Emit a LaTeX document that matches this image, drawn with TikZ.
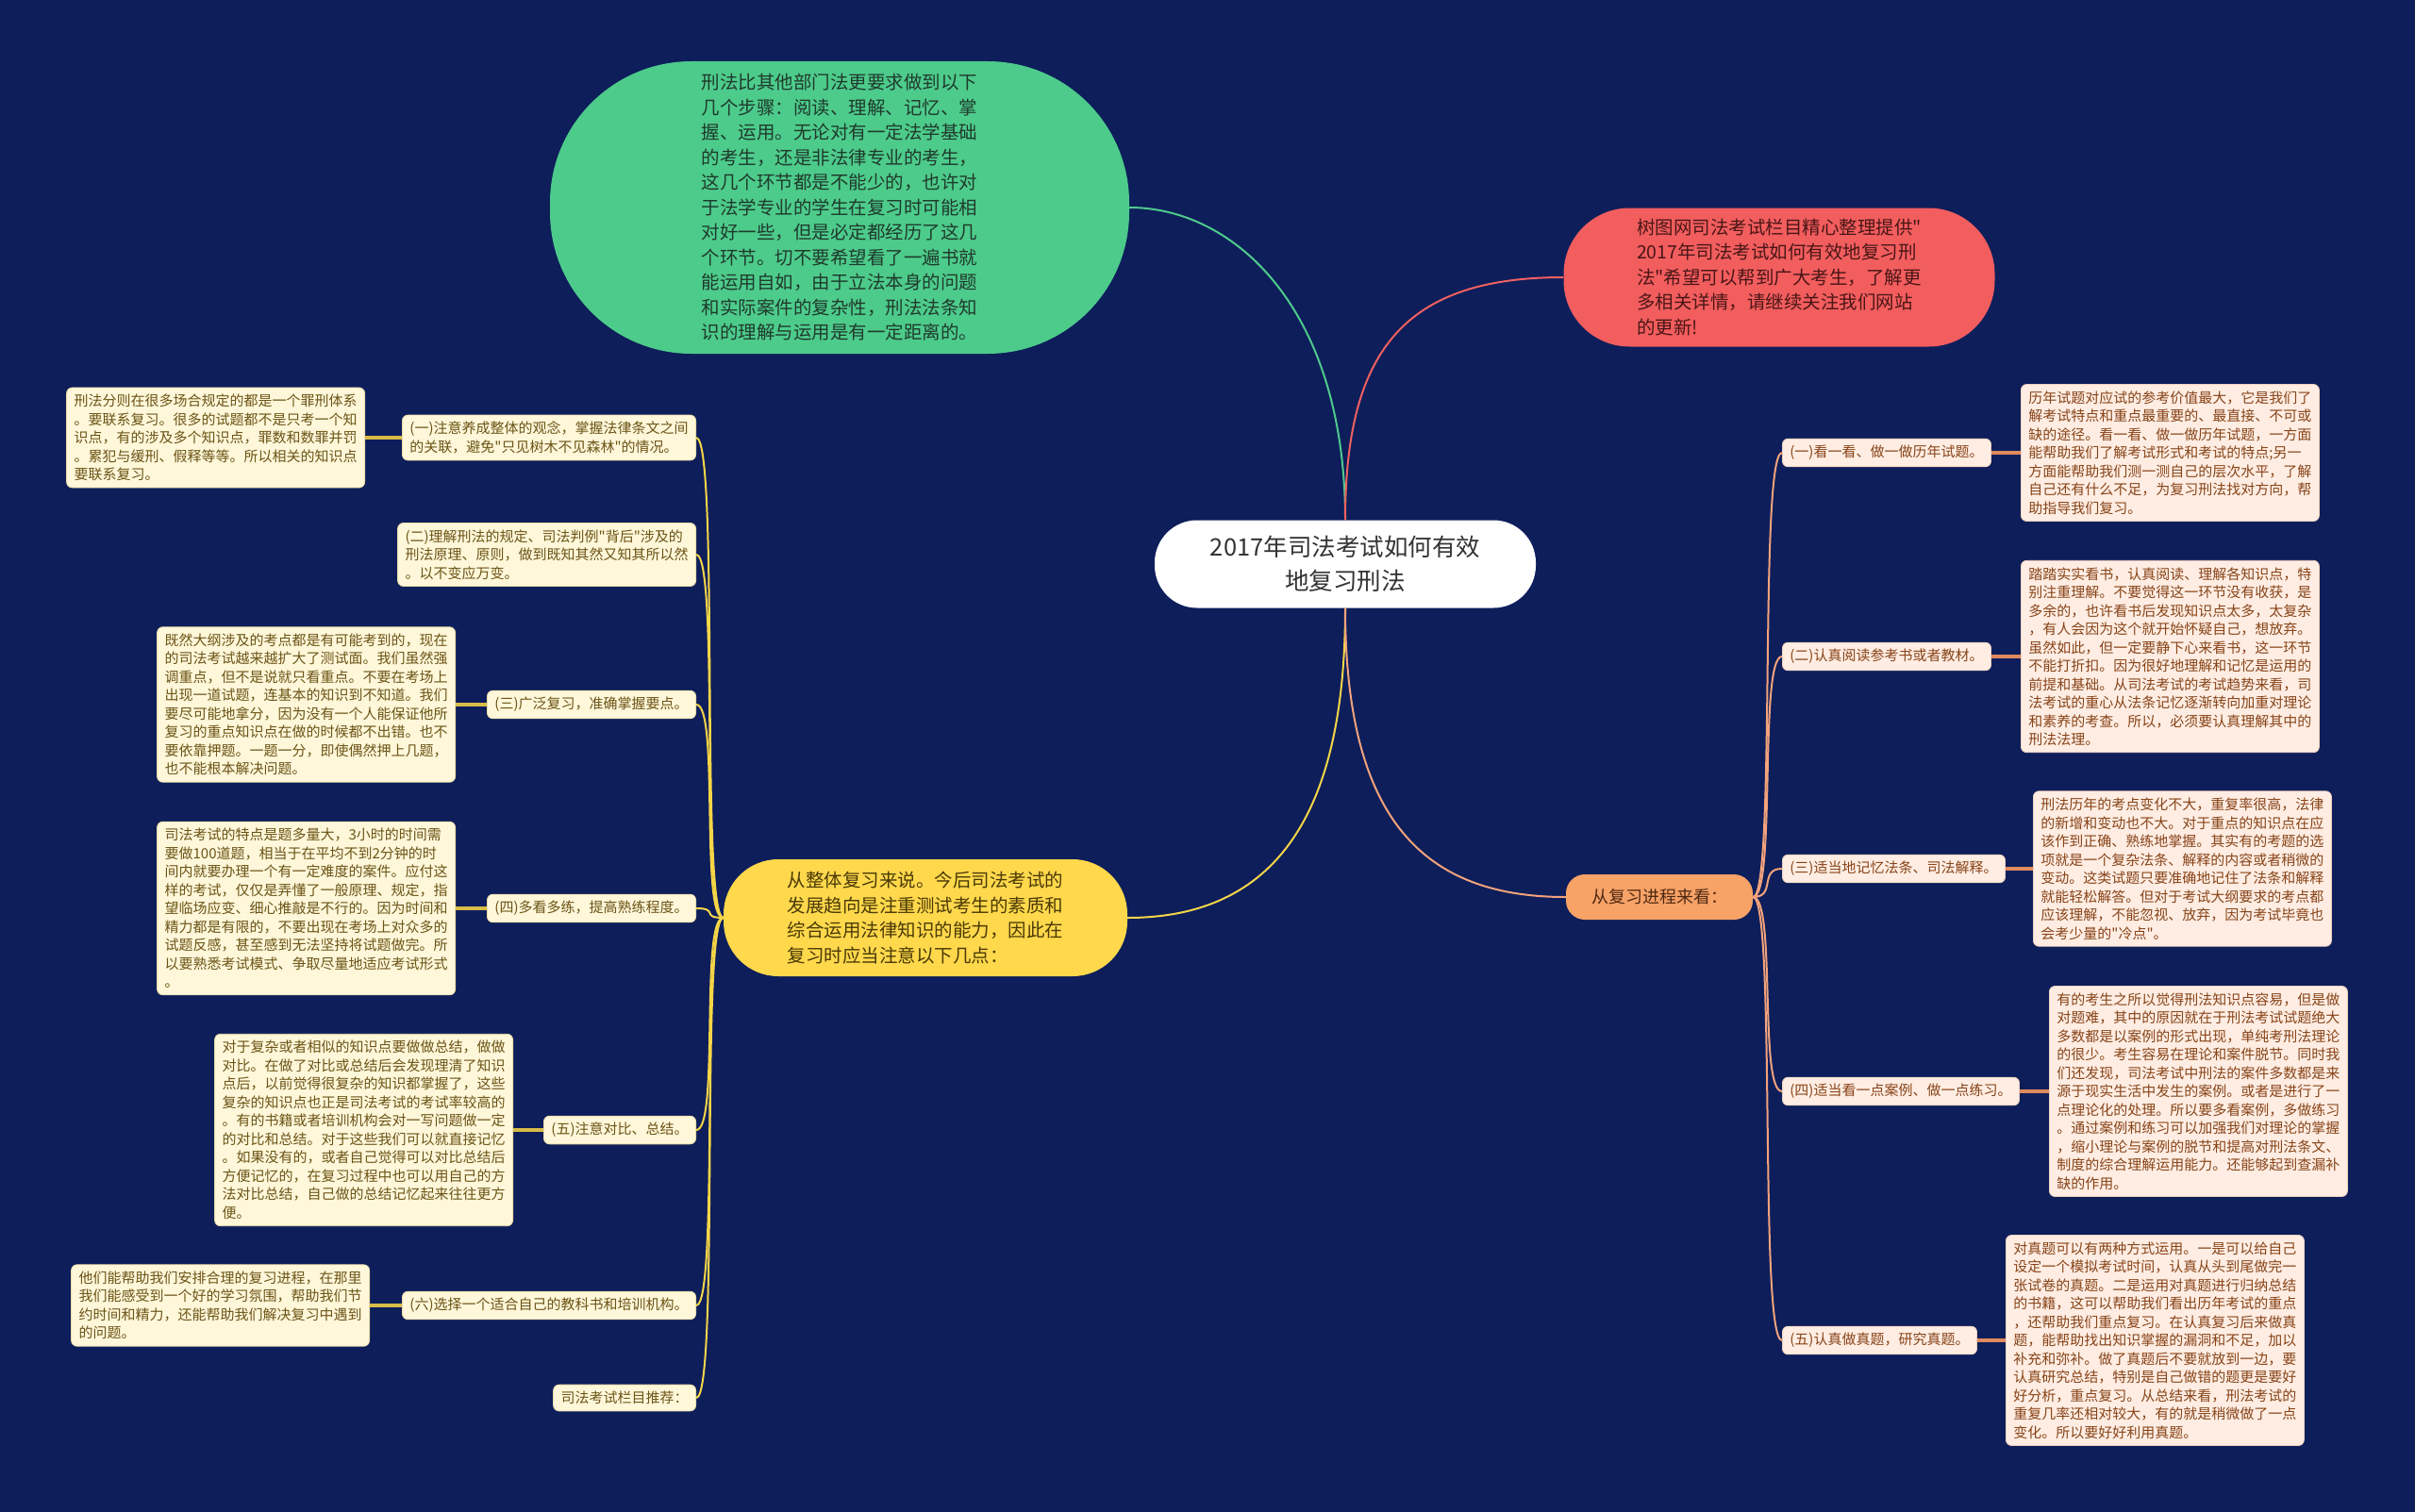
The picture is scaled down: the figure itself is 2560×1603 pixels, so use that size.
\documentclass[tikz,border=0pt]{standalone}
\usepackage{fontspec}
\setmainfont{Noto Sans CJK SC}[Ligatures=TeXOff]
\definecolor{bg}{HTML}{0D1E5A}
\definecolor{grnfill}{HTML}{4DCB8B}
\definecolor{grntext}{HTML}{1F3A2C}
\definecolor{redfill}{HTML}{F25D5E}
\definecolor{redtext}{HTML}{4A1616}
\definecolor{yelfill}{HTML}{FFD84C}
\definecolor{yeltext}{HTML}{4A3A06}
\definecolor{orgfill}{HTML}{F7A267}
\definecolor{orgtext}{HTML}{4E2810}
\definecolor{lfill}{HTML}{FFF7DA}
\definecolor{lline}{HTML}{E9DCA8}
\definecolor{ltext}{HTML}{6B5416}
\definecolor{rfill}{HTML}{FFEDE3}
\definecolor{rline}{HTML}{F0D0BE}
\definecolor{rtext}{HTML}{874418}
\definecolor{spiney}{HTML}{F5D548}
\definecolor{twigy}{HTML}{D8BC48}
\definecolor{spineo}{HTML}{F2A27C}
\definecolor{twigo}{HTML}{E0895E}
\definecolor{linegrn}{HTML}{4FC98C}
\definecolor{linered}{HTML}{EF6060}
\begin{document}
\begin{tikzpicture}[x=1pt,y=-1pt,
  bigtext/.style={align=left,inner sep=0pt,font=\fontsize{19.5}{26.5}\selectfont},
  lbox/.style={fill=lfill,draw=lline,line width=0.8pt,rounded corners=6pt,align=left,
    text=ltext,inner xsep=8pt,inner ysep=7pt,font=\fontsize{15}{19.5}\selectfont},
  rbox/.style={fill=rfill,draw=rline,line width=0.8pt,rounded corners=6pt,align=left,
    text=rtext,inner xsep=8pt,inner ysep=7pt,font=\fontsize{15}{19.5}\selectfont},
  spinel/.style={draw=spiney,line width=2pt},
  twigl/.style={draw=twigy,line width=3.5pt},
  spiner/.style={draw=spineo,line width=2pt},
  twigr/.style={draw=twigo,line width=3.5pt}]
\fill[bg] (0,0) rectangle (2560,1603);
\useasboundingbox (0,0) rectangle (2560,1603);

% centre and main branches
\node[fill=white,rounded corners=45pt,minimum width=404pt,minimum height=93pt,align=center,
  text=black!80,font=\fontsize{25.5}{36}\selectfont] (root) at (1426,598)
  {2017年司法考试如何有效\\地复习刑法};
\node[bigtext,fill=grnfill,text=grntext,rounded corners=150pt,minimum width=614pt,minimum height=310pt]
  (steps) at (890,220) {刑法比其他部门法更要求做到以下\\几个步骤：阅读、理解、记忆、掌\\握、运用。无论对有一定法学基础\\的考生，还是非法律专业的考生，\\这几个环节都是不能少的，也许对\\于法学专业的学生在复习时可能相\\对好一些，但是必定都经历了这几\\个环节。切不要希望看了一遍书就\\能运用自如，由于立法本身的问题\\和实际案件的复杂性，刑法法条知\\识的理解与运用是有一定距离的。};
\node[bigtext,fill=redfill,text=redtext,rounded corners=70pt,minimum width=457pt,minimum height=147pt]
  (intro) at (1886,294) {树图网司法考试栏目精心整理提供"\\2017年司法考试如何有效地复习刑\\法"希望可以帮到广大考生，了解更\\多相关详情，请继续关注我们网站\\的更新!};
\node[bigtext,fill=yelfill,text=yeltext,rounded corners=58pt,minimum width=428pt,minimum height=124pt]
  (whole) at (981,973) {从整体复习来说。今后司法考试的\\发展趋向是注重测试考生的素质和\\综合运用法律知识的能力，因此在\\复习时应当注意以下几点：};
\node[fill=orgfill,text=orgtext,rounded corners=20pt,minimum width=198pt,minimum height=48pt,
  font=\fontsize{18}{24}\selectfont] (process) at (1759,951) {从复习进程来看：};

\draw[linegrn,line width=2pt] (root.north) .. controls (1426,330) and (1310,220) .. (steps.east);
\draw[linered,line width=2pt] (root.north) .. controls (1426,370) and (1490,294) .. (intro.west);
\draw[spiney,line width=2pt] (root.south) .. controls (1426,880) and (1340,973) .. (whole.east);
\draw[spineo,line width=2pt] (root.south) .. controls (1426,870) and (1510,951) .. (process.west);

% left side
\node[lbox,anchor=east] (l1) at (738,464) {(一)注意养成整体的观念，掌握法律条文之间\\的关联，避免"只见树木不见森林"的情况。};
\node[lbox,anchor=east] (l2) at (738,588) {(二)理解刑法的规定、司法判例"背后"涉及的\\刑法原理、原则，做到既知其然又知其所以然\\。以不变应万变。};
\node[lbox,anchor=east] (l3) at (738,747) {(三)广泛复习，准确掌握要点。};
\node[lbox,anchor=east] (l4) at (738,963) {(四)多看多练，提高熟练程度。};
\node[lbox,anchor=east] (l5) at (738,1198) {(五)注意对比、总结。};
\node[lbox,anchor=east] (l6) at (738,1384) {(六)选择一个适合自己的教科书和培训机构。};
\node[lbox,anchor=east] (l7) at (738,1482) {司法考试栏目推荐：};

\node[lbox,anchor=east] (l1leaf) at (387,464) {刑法分则在很多场合规定的都是一个罪刑体系\\。要联系复习。很多的试题都不是只考一个知\\识点，有的涉及多个知识点，罪数和数罪并罚\\。累犯与缓刑、假释等等。所以相关的知识点\\要联系复习。};
\node[lbox,anchor=east] (l3leaf) at (483,747) {既然大纲涉及的考点都是有可能考到的，现在\\的司法考试越来越扩大了测试面。我们虽然强\\调重点，但不是说就只看重点。不要在考场上\\出现一道试题，连基本的知识到不知道。我们\\要尽可能地拿分，因为没有一个人能保证他所\\复习的重点知识点在做的时候都不出错。也不\\要依靠押题。一题一分，即使偶然押上几题，\\也不能根本解决问题。};
\node[lbox,anchor=east] (l4leaf) at (483,963) {司法考试的特点是题多量大，3小时的时间需\\要做100道题，相当于在平均不到2分钟的时\\间内就要办理一个有一定难度的案件。应付这\\样的考试，仅仅是弄懂了一般原理、规定，指\\望临场应变、细心推敲是不行的。因为时间和\\精力都是有限的，不要出现在考场上对众多的\\试题反感，甚至感到无法坚持将试题做完。所\\以要熟悉考试模式、争取尽量地适应考试形式\\。};
\node[lbox,anchor=east] (l5leaf) at (544,1198) {对于复杂或者相似的知识点要做做总结，做做\\对比。在做了对比或总结后会发现理清了知识\\点后，以前觉得很复杂的知识都掌握了，这些\\复杂的知识点也正是司法考试的考试率较高的\\。有的书籍或者培训机构会对一写问题做一定\\的对比和总结。对于这些我们可以就直接记忆\\。如果没有的，或者自己觉得可以对比总结后\\方便记忆的，在复习过程中也可以用自己的方\\法对比总结，自己做的总结记忆起来往往更方\\便。};
\node[lbox,anchor=east] (l6leaf) at (392,1384) {他们能帮助我们安排合理的复习进程，在那里\\我们能感受到一个好的学习氛围，帮助我们节\\约时间和精力，还能帮助我们解决复习中遇到\\的问题。};

\foreach \n in {l1,l2,l3,l4,l5,l6,l7}
  \draw[spinel] (whole.west) .. controls +(-25,0) and +(25,0) .. (\n.east);
\foreach \n in {l1,l3,l4,l5,l6}
  \draw[twigl] (\n.west) -- (\n leaf.east);

% right side
\node[rbox,anchor=west] (r1) at (1889,480) {(一)看一看、做一做历年试题。};
\node[rbox,anchor=west] (r2) at (1889,696) {(二)认真阅读参考书或者教材。};
\node[rbox,anchor=west] (r3) at (1889,921) {(三)适当地记忆法条、司法解释。};
\node[rbox,anchor=west] (r4) at (1889,1157) {(四)适当看一点案例、做一点练习。};
\node[rbox,anchor=west] (r5) at (1889,1421) {(五)认真做真题，研究真题。};

\node[rbox,anchor=west] (r1leaf) at (2142,480) {历年试题对应试的参考价值最大，它是我们了\\解考试特点和重点最重要的、最直接、不可或\\缺的途径。看一看、做一做历年试题，一方面\\能帮助我们了解考试形式和考试的特点;另一\\方面能帮助我们测一测自己的层次水平，了解\\自己还有什么不足，为复习刑法找对方向，帮\\助指导我们复习。};
\node[rbox,anchor=west] (r2leaf) at (2142,696) {踏踏实实看书，认真阅读、理解各知识点，特\\别注重理解。不要觉得这一环节没有收获，是\\多余的，也许看书后发现知识点太多，太复杂\\，有人会因为这个就开始怀疑自己，想放弃。\\虽然如此，但一定要静下心来看书，这一环节\\不能打折扣。因为很好地理解和记忆是运用的\\前提和基础。从司法考试的考试趋势来看，司\\法考试的重心从法条记忆逐渐转向加重对理论\\和素养的考查。所以，必须要认真理解其中的\\刑法法理。};
\node[rbox,anchor=west] (r3leaf) at (2155,921) {刑法历年的考点变化不大，重复率很高，法律\\的新增和变动也不大。对于重点的知识点在应\\该作到正确、熟练地掌握。其实有的考题的选\\项就是一个复杂法条、解释的内容或者稍微的\\变动。这类试题只要准确地记住了法条和解释\\就能轻松解答。但对于考试大纲要求的考点都\\应该理解，不能忽视、放弃，因为考试毕竟也\\会考少量的"冷点"。};
\node[rbox,anchor=west] (r4leaf) at (2172,1157) {有的考生之所以觉得刑法知识点容易，但是做\\对题难，其中的原因就在于刑法考试试题绝大\\多数都是以案例的形式出现，单纯考刑法理论\\的很少。考生容易在理论和案件脱节。同时我\\们还发现，司法考试中刑法的案件多数都是来\\源于现实生活中发生的案例。或者是进行了一\\点理论化的处理。所以要多看案例，多做练习\\。通过案例和练习可以加强我们对理论的掌握\\，缩小理论与案例的脱节和提高对刑法条文、\\制度的综合理解运用能力。还能够起到查漏补\\缺的作用。};
\node[rbox,anchor=west] (r5leaf) at (2126,1421) {对真题可以有两种方式运用。一是可以给自己\\设定一个模拟考试时间，认真从头到尾做完一\\张试卷的真题。二是运用对真题进行归纳总结\\的书籍，这可以帮助我们看出历年考试的重点\\，还帮助我们重点复习。在认真复习后来做真\\题，能帮助找出知识掌握的漏洞和不足，加以\\补充和弥补。做了真题后不要就放到一边，要\\认真研究总结，特别是自己做错的题更是要好\\好分析，重点复习。从总结来看，刑法考试的\\重复几率还相对较大，有的就是稍微做了一点\\变化。所以要好好利用真题。};

\foreach \n in {r1,r2,r3,r4,r5}
  \draw[spiner] (process.east) .. controls +(25,0) and +(-25,0) .. (\n.west);
\foreach \n in {r1,r2,r3,r4,r5}
  \draw[twigr] (\n.east) -- (\n leaf.west);
\end{tikzpicture}
\end{document}
